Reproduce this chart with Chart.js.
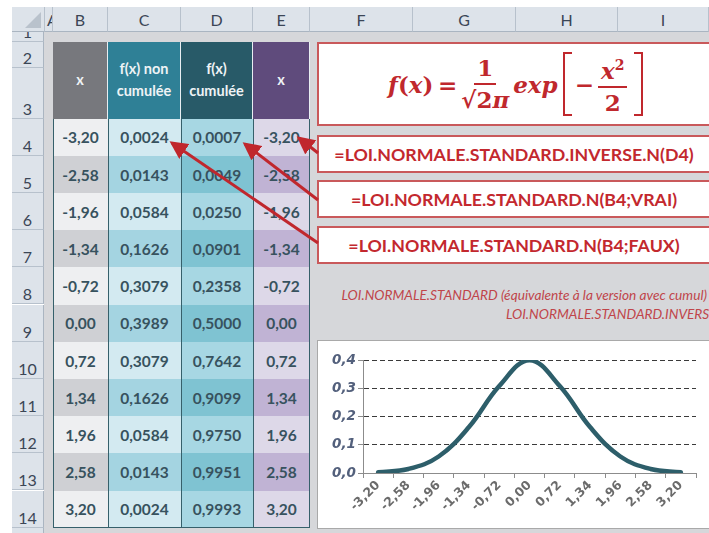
<!DOCTYPE html>
<html>
<head>
<meta charset="utf-8">
<script src="https://cdn.jsdelivr.net/npm/chart.js@4.4.1/dist/chart.umd.min.js"></script>
<style>
  html, body { margin: 0; padding: 0; background: #fff; }
  body { width: 709px; height: 533px; position: relative; overflow: hidden; font-family: Lato, "Open Sans", sans-serif; }
  .abs { position: absolute; box-sizing: border-box; }
  .sheet { left: 44px; top: 32px; width: 665px; height: 501px; background: #d6d7da; }
  .colhead { top: 7px; height: 25px; background: #dde3ea; border-right: 1px solid #b7c1cc; border-bottom: 1px solid #aab5c1;
             color: #3b4656; font-size: 16px; text-align: center; line-height: 25px; overflow: hidden; }
  .rowhead { left: 12px; width: 32px; background: #dde3ea; border-bottom: 1px solid #b7c1cc; border-right: 1px solid #aab5c1;
             color: #3b4656; font-size: 16px; text-align: center; overflow: hidden; }
  .rowhead span { position: absolute; left: 0; right: 0; bottom: 0px; }
  .corner { left: 12px; top: 7px; width: 33px; height: 25px; background: #dde3ea; border-bottom: 1px solid #aab5c1; border-right: 1px solid #b7c1cc; }
  .tri { right: 3px; bottom: 3px; width: 0; height: 0; border-left: 16px solid transparent; border-bottom: 16px solid #b9c2cc; }
  .hcell { color: #eef3f5; font-weight: bold; font-size: 14.5px; text-align: center; display: flex; align-items: center; justify-content: center;
           line-height: 22px; border-right: 1px solid #e8eef2; }
  .cell { color: #37525e; font-weight: bold; font-size: 15.5px; text-align: center; display: flex; align-items: center; justify-content: center; }
  .vline { width: 1px; background: #36606b; }
  .box { background: #fff; border: 2px solid #c9595b; }
  .formula-txt { color: #c3282e; font-weight: bold; font-size: 17.8px; text-align: center; white-space: nowrap; }
  .note { color: #c0454a; font-style: italic; font-size: 13.7px; white-space: nowrap; }
  .eq { left: 388px; top: 47px; height: 74px; display: flex; align-items: center; color: #c0282d;
        font-family: "DejaVu Serif", "Liberation Serif", serif; font-weight: bold; font-style: italic; font-size: 23px; }
  .frac { display: inline-flex; flex-direction: column; align-items: center; margin: 0 4px; font-style: normal; }
  .frac .num { border-bottom: 2px solid #c0282d; padding: 0 3px; line-height: 30px; }
  .frac .den { line-height: 30px; }
  .brk { width: 7px; height: 60px; border: 2px solid #c0282d; }
  .brk.l { border-right: none; margin: 0 3px 0 5px; }
  .brk.r { border-left: none; margin-left: 3px; }
  .chartbox { left: 317px; top: 340px; width: 400px; height: 189px; background: #fff; border: 1px solid #a9a9a9; }
</style>
</head>
<body>
<div id="app"></div>
<svg class="abs" style="left:0;top:0" width="709" height="533" id="arrows">
  <defs>
    <marker id="head" markerWidth="6" markerHeight="6" refX="5" refY="3" orient="auto">
      <path d="M0,0 L6,3 L0,6 Z" fill="#c0272d"></path>
    </marker>
  </defs>
</svg>
<script>
// ─────────────────────────────────────────────
//  DATA
// ─────────────────────────────────────────────

const xLabels = ['-3,20', '-2,58', '-1,96', '-1,34', '-0,72', '0,00', '0,72', '1,34', '1,96', '2,58', '3,20'];
const densityValues = [0.0024, 0.0143, 0.0584, 0.1626, 0.3079, 0.3989, 0.3079, 0.1626, 0.0584, 0.0143, 0.0024];
const cumulativeValues = [0.0007, 0.0049, 0.0250, 0.0901, 0.2358, 0.5000, 0.7642, 0.9099, 0.9750, 0.9951, 0.9993];
const columnLetters = ['A', 'B', 'C', 'D', 'E', 'F', 'G', 'H', 'I'];
const headerTitles = ['x', 'f(x) non<br>cumulée', 'f(x)<br>cumulée', 'x'];
const formulaTexts = [
  '=LOI.NORMALE.STANDARD.INVERSE.N(D4)',
  '=LOI.NORMALE.STANDARD.N(B4;VRAI)',
  '=LOI.NORMALE.STANDARD.N(B4;FAUX)'
];
const noteTexts = [
  'LOI.NORMALE.STANDARD (équivalente à la version avec cumul)',
  'LOI.NORMALE.STANDARD.INVERSE.N'
];

// ─────────────────────────────────────────────
//  GRID LAYOUT
// ─────────────────────────────────────────────

const colEdges = [45, 53, 108, 181, 253, 310, 413, 516, 618, 709];
const rowTop = 118.5, rowH = 37.2;
const headColors = ['#77787d', '#2f8096', '#285a68', '#5f4b7c'];
const lightColors = ['#eeeff1', '#d3eaf1', '#a7d7e3', '#ddd8e8'];
const darkColors = ['#cfd0d4', '#a4d4e1', '#7fc3d2', '#c0b3d4'];

const fmt = (v, d) => v.toFixed(d).replace('.', ',');

function el(cls, style, html) {
  const d = document.createElement('div');
  d.className = 'abs ' + cls;
  d.style.cssText = style;
  if (html !== undefined) d.innerHTML = html;
  document.getElementById('app').appendChild(d);
  return d;
}

function renderSheet() {
  el('sheet', '');
  el('corner', '').innerHTML = '<div class="abs tri"></div>';

  columnLetters.forEach((c, i) => {
    el('colhead', `left:${colEdges[i]}px;width:${colEdges[i + 1] - colEdges[i]}px;${i === 0 ? 'text-indent:2px;text-align:left' : ''}`, c);
  });

  // row headers
  const rows = [[1, 32, 42], [2, 42, 68], [3, 68, rowTop]];
  for (let r = 0; r < 12; r++) rows.push([4 + r, rowTop + r * rowH, rowTop + (r + 1) * rowH]);
  rows.forEach(([n, t, b]) => {
    el('rowhead', `top:${t}px;height:${b - t}px`, `<span>${n}</span>`);
  });

  // table header
  for (let c = 0; c < 4; c++) {
    el('hcell', `left:${colEdges[c + 1]}px;top:42px;width:${colEdges[c + 2] - colEdges[c + 1]}px;height:${rowTop - 42}px;background:${headColors[c]}`, headerTitles[c]);
  }

  // table body
  xLabels.forEach((x, r) => {
    const vals = [x, fmt(densityValues[r], 4), fmt(cumulativeValues[r], 4), x];
    vals.forEach((v, c) => {
      const bg = r % 2 === 0 ? lightColors[c] : darkColors[c];
      el('cell', `left:${colEdges[c + 1]}px;top:${rowTop + r * rowH}px;width:${colEdges[c + 2] - colEdges[c + 1]}px;height:${rowH + 0.5}px;background:${bg}`, v);
    });
  });
  const bodyBottom = rowTop + 11 * rowH;
  [53, 108, 181, 253, 309].forEach(x => el('vline', `left:${x}px;top:${rowTop}px;height:${bodyBottom - rowTop}px`));
  el('', `left:53px;top:${bodyBottom - 1}px;width:257px;height:1px;background:#36606b`);
}

function renderFormulas() {
  el('box', 'left:317px;top:42px;width:400px;height:84px');
  el('eq', '', `<span>f</span><span style="font-style:normal">(</span><span>x</span><span style="font-style:normal">)&thinsp;=</span>
    <span class="frac"><span class="num">1</span><span class="den">√2<i>π</i></span></span>
    <span>exp</span><span class="brk l"></span><span style="font-style:normal">−</span>
    <span class="frac"><span class="num"><i>x</i><sup style="font-size:14px;font-style:normal">2</sup></span><span class="den">2</span></span>
    <span class="brk r"></span>`);

  const boxes = [135, 180, 226];
  boxes.forEach((t, i) => {
    el('box formula-txt', `left:317px;top:${t}px;width:400px;height:38px;line-height:34px;padding-right:6px`, formulaTexts[i]);
  });

  el('note', 'right:2px;top:286px', noteTexts[0]);
  el('note', 'left:506px;top:305px', noteTexts[1]);
}

function renderArrows() {
  const svg = document.getElementById('arrows');
  const lines = [[318, 153, 299, 138], [318, 200, 245, 144], [318, 243, 172, 143]];
  lines.forEach(([x1, y1, x2, y2]) => {
    const l = document.createElementNS('http://www.w3.org/2000/svg', 'line');
    l.setAttribute('x1', x1); l.setAttribute('y1', y1);
    l.setAttribute('x2', x2); l.setAttribute('y2', y2);
    l.setAttribute('stroke', '#c0272d');
    l.setAttribute('stroke-width', '3');
    l.setAttribute('marker-end', 'url(#head)');
    svg.appendChild(l);
  });
}

// ─────────────────────────────────────────────
//  CHART
// ─────────────────────────────────────────────

function renderChart() {
  const box = el('chartbox', '');
  const canvas = document.createElement('canvas');
  canvas.width = 398; canvas.height = 187;
  box.appendChild(canvas);

  new Chart(canvas.getContext('2d'), {
    type: 'line',
    data: {
      labels: xLabels,
      datasets: [{
        data: densityValues,
        borderColor: '#2d5e6a',
        borderWidth: 4.5,
        tension: 0.4,
        pointRadius: 0,
        fill: false,
        borderCapStyle: 'round'
      }]
    },
    options: {
      responsive: false,
      devicePixelRatio: 1,
      animation: false,
      layout: { padding: { top: 19, right: 20, left: 0, bottom: 0 } },
      plugins: { legend: { display: false }, tooltip: { enabled: false } },
      scales: {
        x: {
          offset: true,
          grid: { offset: true, drawOnChartArea: false, tickLength: 5, color: '#8c8c8c', tickColor: '#8c8c8c' },
          border: { color: '#8c8c8c' },
          ticks: { maxRotation: 45, minRotation: 45, color: '#6b6b6b', padding: 0,
                   font: { family: '"DejaVu Sans"', size: 12.5, weight: 'bold' } },
          afterFit: s => { s.height = 55; }
        },
        y: {
          min: 0, max: 0.4,
          grid: {
            color: c => c.tick && c.tick.value === 0 ? 'rgba(0,0,0,0)' : '#3a3a3a',
            borderDash: [5, 3],
            tickColor: '#8c8c8c', tickBorderDash: [], tickLength: 5
          },
          border: { color: '#8c8c8c', dash: [5, 3] },
          ticks: { stepSize: 0.1, padding: 2, color: '#53607c',
                   font: { family: '"DejaVu Sans"', size: 13.5, weight: 'bold', style: 'italic' },
                   callback: v => fmt(v, 1) },
          afterFit: s => { s.width = 45; }
        }
      }
    }
  });
}

renderSheet();
renderFormulas();
renderArrows();
renderChart();
</script>
</body>
</html>
